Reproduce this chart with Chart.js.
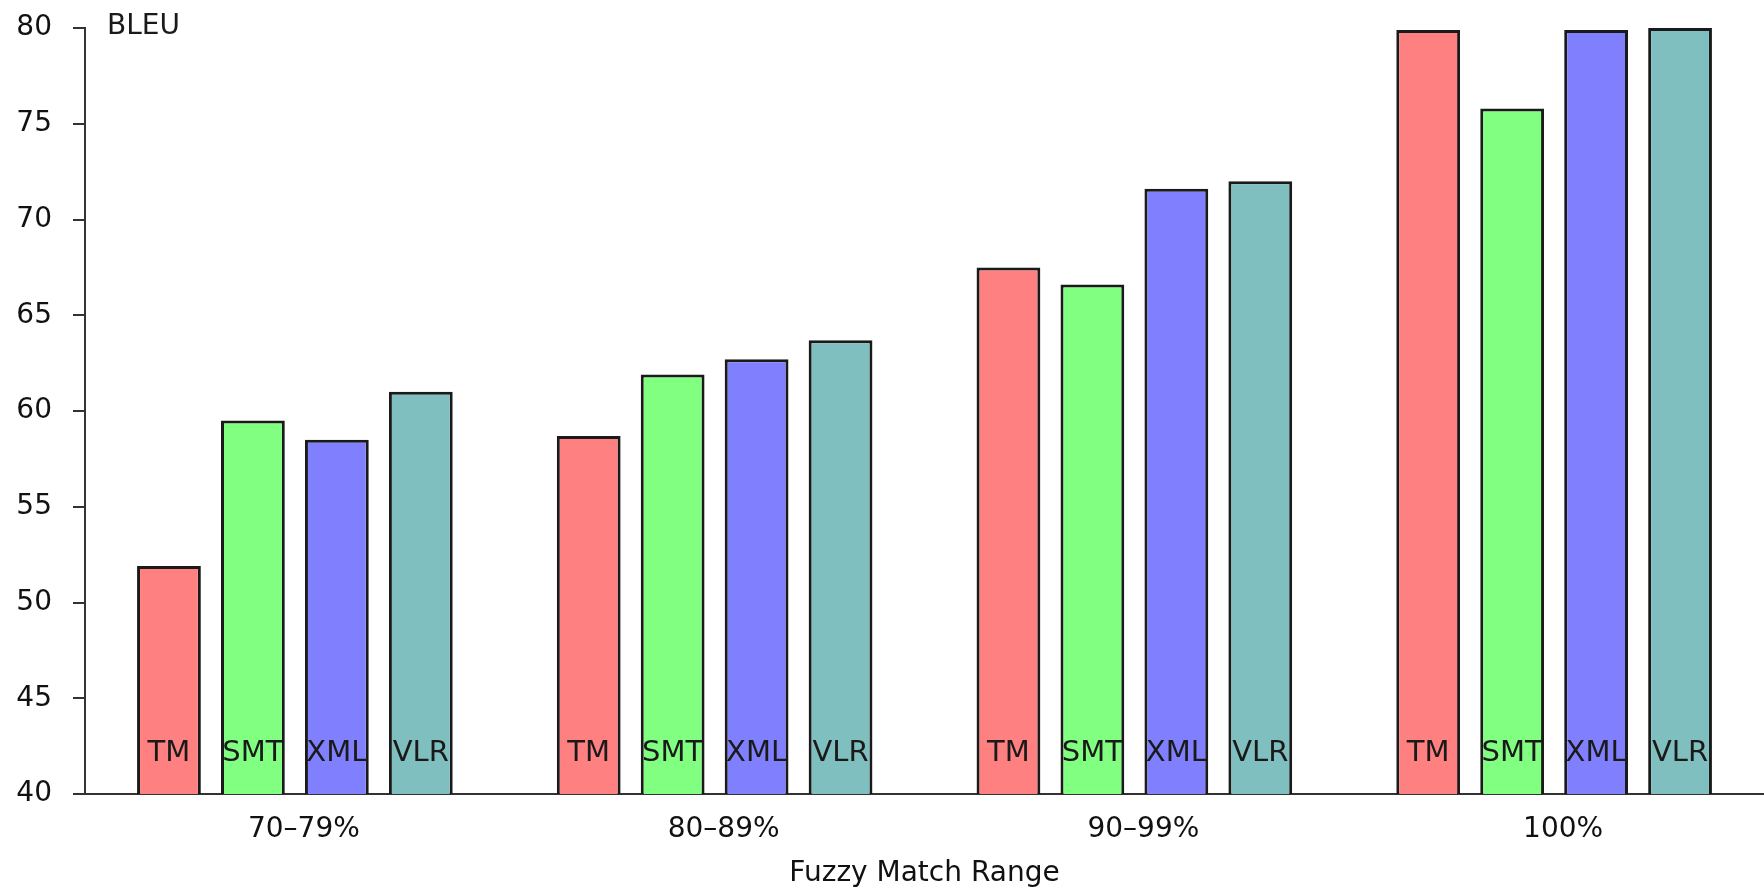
<!DOCTYPE html>
<html lang="en">
<head>
  <meta charset="UTF-8" />
  <title>BLEU by Fuzzy Match Range</title>
  <script src="https://cdn.jsdelivr.net/npm/chart.js"></script>
  <style>
    html, body { margin: 0; padding: 0; background: #fff; }
    #wrap { width: 1764px; height: 891px; position: relative; }
  </style>
</head>
<body>
  <div id="wrap"><canvas id="bleuChart"></canvas></div>

  <script>
    const categories = ["70–79%", "80–89%", "90–99%", "100%"];
    const systems = ["TM", "SMT", "XML", "VLR"];
    const tmScores = [51.9, 58.7, 67.5, 79.9];
    const smtScores = [59.5, 61.9, 66.6, 75.8];
    const xmlScores = [58.5, 62.7, 71.6, 79.9];
    const vlrScores = [61.0, 63.7, 72.0, 80.0];
    const yTicks = [40, 45, 50, 55, 60, 65, 70, 75, 80];

    const fills = ["#ff8080", "#80ff80", "#8080ff", "#80bfbf"];
    const series = [tmScores, smtScores, xmlScores, vlrScores];
    const FONT = "'DejaVu Sans', Verdana, sans-serif";

    // labels inside each bar + the "BLEU" axis caption
    const barText = {
      id: "barText",
      afterDatasetsDraw(chart) {
        const ctx = chart.ctx;
        const area = chart.chartArea;
        ctx.save();
        ctx.font = "29px " + FONT;
        ctx.fillStyle = "#1a1a1a";
        ctx.textAlign = "center";
        ctx.textBaseline = "middle";
        chart.data.datasets.forEach((ds, i) => {
          chart.getDatasetMeta(i).data.forEach(bar => {
            ctx.fillText(ds.label, bar.x, area.bottom - 41);
          });
        });
        ctx.font = "28px " + FONT;
        ctx.textAlign = "left";
        ctx.fillText("BLEU", area.left + 22, chart.scales.y.getPixelForValue(80) - 1);
        ctx.restore();
      }
    };

    new Chart(document.getElementById("bleuChart"), {
      type: "bar",
      data: {
        labels: categories,
        datasets: systems.map((s, i) => ({
          label: s,
          data: series[i],
          backgroundColor: fills[i],
          borderColor: "#1a1a1a",
          borderWidth: 3,
          barPercentage: 0.76,
          categoryPercentage: 0.8
        }))
      },
      options: {
        responsive: true,
        maintainAspectRatio: false,
        animation: false,
        layout: { padding: { top: 28, right: 0, left: 0, bottom: 0 } },
        plugins: {
          legend: { display: false },
          tooltip: { enabled: false }
        },
        scales: {
          x: {
            afterFit(scale) { scale.height = 97; },
            grid: { display: false, drawTicks: false },
            border: { color: "#333", width: 2 },
            ticks: { color: "#111", font: { family: FONT, size: 28 }, padding: 19, labelOffset: 9 },
            title: {
              display: true,
              text: "Fuzzy Match Range",
              color: "#111",
              font: { family: FONT, size: 28 },
              padding: { top: 10, bottom: 0 }
            }
          },
          y: {
            min: 40,
            max: 80,
            afterBuildTicks(scale) { scale.ticks = yTicks.map(v => ({ value: v })); },
            afterFit(scale) {
              scale.width = 85;
              scale.paddingTop = 0;
              scale.paddingBottom = 0;
            },
            grid: { drawOnChartArea: false, tickLength: 12, color: "#333", lineWidth: 2 },
            border: { color: "#333", width: 2 },
            ticks: { color: "#111", font: { family: FONT, size: 28 }, padding: 21 }
          }
        }
      },
      plugins: [barText]
    });
  </script>
</body>
</html>
